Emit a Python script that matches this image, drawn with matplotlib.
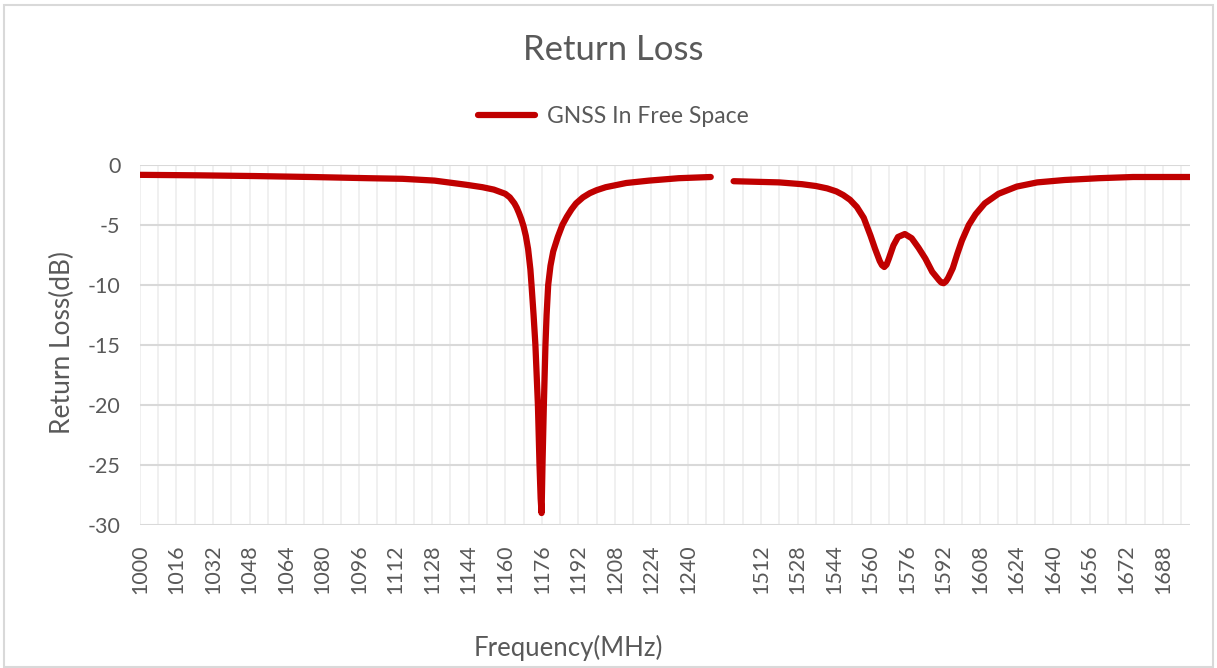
import numpy as np
import matplotlib
matplotlib.use("Agg")
import matplotlib.pyplot as plt
from matplotlib.patches import Rectangle

# Return loss (MHz, dB)
low_freq = [1000, 1025, 1050, 1075, 1100, 1115, 1129, 1143, 1150, 1155, 1160, 1162,
            1164, 1165, 1166, 1167, 1168, 1169, 1170, 1171, 1171.5, 1172.4, 1173.2,
            1174.3, 1175, 1175.5, 1175.9, 1176.3, 1176.9, 1177.6, 1178.1, 1178.8,
            1179.8, 1181, 1182, 1183, 1185, 1187, 1189, 1191, 1194, 1197, 1200, 1204,
            1213, 1223, 1236, 1250]
low_rl = [-0.82, -0.86, -0.92, -1.0, -1.1, -1.15, -1.3, -1.65, -1.85, -2.05, -2.4, -2.7,
          -3.2, -3.55, -4.0, -4.5, -5.1, -5.9, -7.0, -8.7, -10, -12.5, -15,
          -20, -25, -27.8, -29.0, -25, -20, -15, -12.5, -10,
          -8.4, -7.2, -6.6, -6.0, -5.0, -4.3, -3.7, -3.2, -2.7, -2.35, -2.1, -1.85,
          -1.5, -1.3, -1.1, -1.0]

high_freq = [1500, 1510, 1520, 1530, 1536, 1541, 1545, 1548, 1551, 1554, 1557, 1560,
             1562, 1564, 1565, 1566, 1567, 1568, 1570, 1572, 1575, 1578, 1581, 1584,
             1587, 1590, 1591, 1592, 1593, 1594, 1596, 1598, 1600, 1603, 1606, 1610,
             1616, 1624, 1633, 1645, 1660, 1675, 1700]
high_rl = [-1.35, -1.4, -1.45, -1.6, -1.75, -1.95, -2.2, -2.5, -2.9, -3.5, -4.4, -5.9,
           -7.0, -8.0, -8.35, -8.5, -8.3, -7.8, -6.7, -6.0, -5.75, -6.1, -6.9, -7.8,
           -8.9, -9.6, -9.8, -9.85, -9.7, -9.4, -8.6, -7.4, -6.3, -5.0, -4.1, -3.2,
           -2.4, -1.8, -1.45, -1.25, -1.1, -1.0, -1.0]

low_ticks = list(range(1000, 1241, 16))
high_ticks = list(range(1512, 1689, 16))
y_ticks = [0, -5, -10, -15, -20, -25, -30]

# Excel-style category axis: 2 MHz per category, 4 empty categories between bands
STEP = 2
HIGH_START = 130


def low_pos(f):
    return (np.asarray(f, dtype=float) - 1000) / STEP


def high_pos(f):
    return (np.asarray(f, dtype=float) - 1500) / STEP + HIGH_START


plt.rcParams['font.family'] = ['Lato', 'DejaVu Sans']
grey = '#595959'
red = '#C00000'

fig = plt.figure(figsize=(12.17, 6.68), dpi=100)
fig.patches.append(Rectangle((0.003, 0.002), 0.994, 0.99, transform=fig.transFigure,
                             fill=False, edgecolor='#d9d9d9', linewidth=1.5))
ax = fig.add_axes([0.115, 0.214, 0.863, 0.539])

x_end = high_pos(1700)
for p in np.arange(0, x_end, 4):
    ax.axvline(p, color='#efefef', linewidth=1.3, zorder=0)
for y in y_ticks:
    ax.axhline(y, color='#d9d9d9', linewidth=1.5, zorder=1)

ax.plot(low_pos(low_freq), low_rl, color=red, linewidth=4.5,
        solid_capstyle='round', solid_joinstyle='round', label='GNSS In Free Space', zorder=3)
ax.plot(high_pos(high_freq), high_rl, color=red, linewidth=4.5,
        solid_capstyle='round', solid_joinstyle='round', zorder=3)

ax.set_xlim(0, x_end)
ax.set_ylim(-30, 0)
for s in ax.spines.values():
    s.set_visible(False)

xt = list(low_pos(low_ticks)) + list(high_pos(high_ticks))
ax.set_xticks(xt)
ax.set_xticklabels([str(t) for t in low_ticks + high_ticks], rotation=90,
                   fontsize=15.5, color=grey)
ax.set_yticks(y_ticks)
ax.set_yticklabels([str(t) for t in y_ticks], fontsize=15.5, color=grey)
ax.tick_params(axis='both', length=0)
ax.tick_params(axis='x', pad=14)
ax.tick_params(axis='y', pad=14)

ax.set_ylabel('Return Loss(dB)', fontsize=19, color=grey)
ax.yaxis.set_label_coords(-0.062, 0.508)
ax.set_xlabel('Frequency(MHz)', fontsize=18.5, color=grey)
ax.xaxis.set_label_coords(0.408, -0.305)

fig.text(0.504, 0.925, 'Return Loss', ha='center', va='center', fontsize=25, color=grey)
fig.legend(loc='center', bbox_to_anchor=(0.504, 0.826), frameon=False, fontsize=16.5,
           handlelength=2.5, handletextpad=0.5, labelcolor=grey)

fig.savefig('out.png', dpi=100)
